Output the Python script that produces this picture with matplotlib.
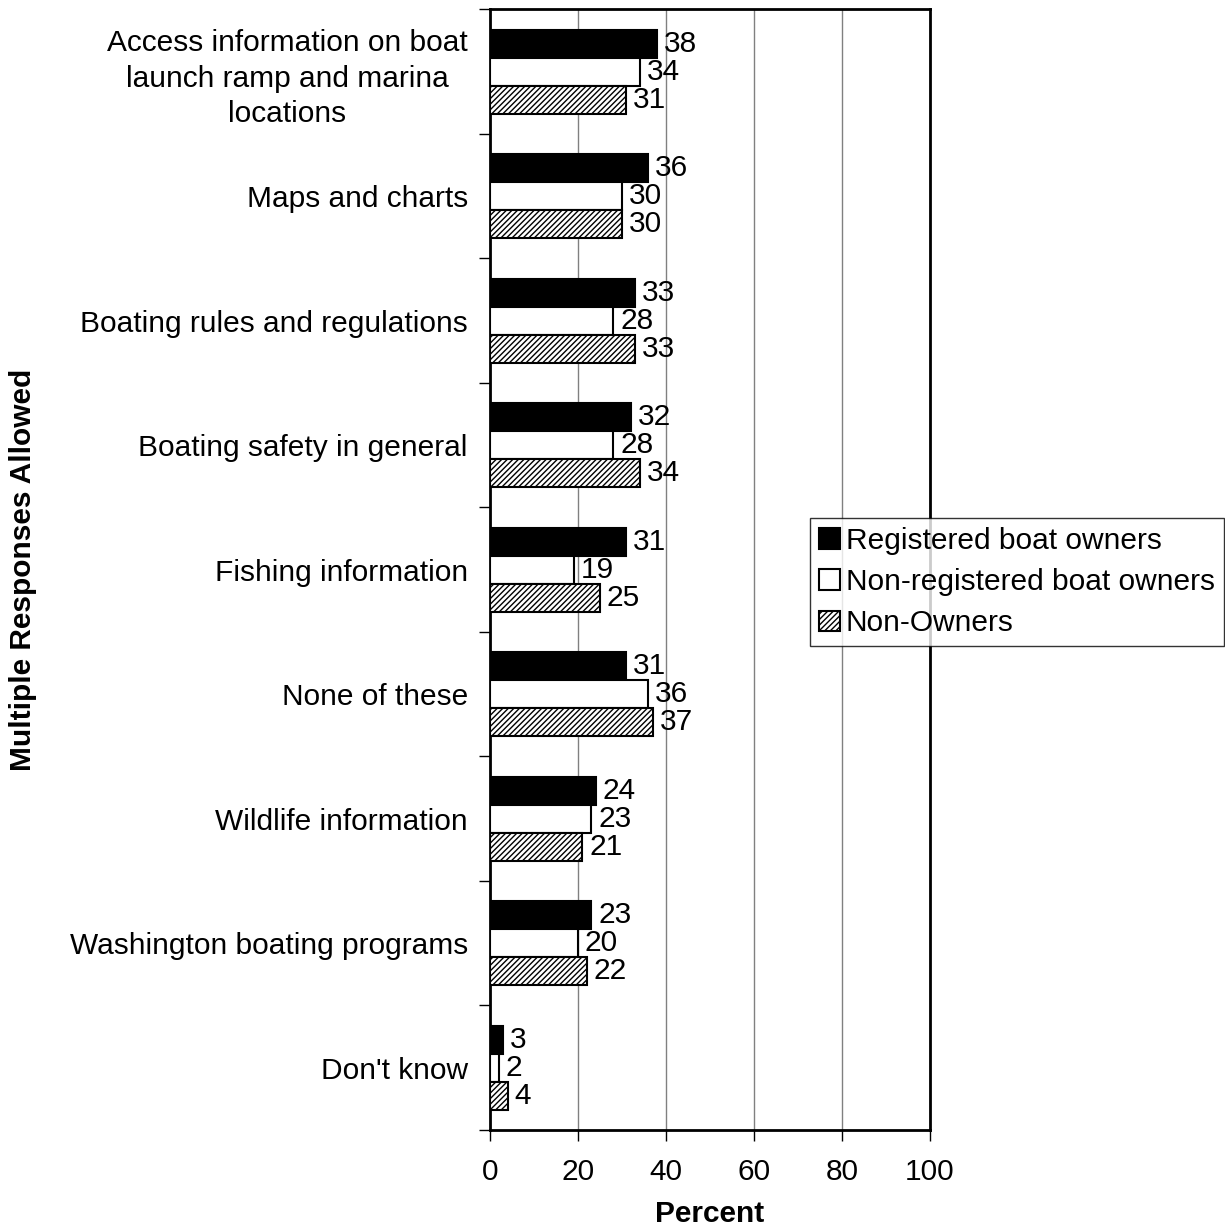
import numpy as np
import matplotlib.pyplot as plt

plt.rcParams['font.family'] = ['Liberation Sans', 'DejaVu Sans']
plt.rcParams['hatch.linewidth'] = 1.0

categories = ["Access information on boat\nlaunch ramp and marina\nlocations",
              "Maps and charts",
              "Boating rules and regulations",
              "Boating safety in general",
              "Fishing information",
              "None of these",
              "Wildlife information",
              "Washington boating programs",
              "Don't know"]
registered = [38, 36, 33, 32, 31, 31, 24, 23, 3]
non_registered = [34, 30, 28, 28, 19, 36, 23, 20, 2]
non_owners = [31, 30, 33, 34, 25, 37, 21, 22, 4]

fs = 21.5

fig = plt.figure(figsize=(12.25, 12.26), dpi=100)
ax = fig.add_axes([0.4, 0.0783, 0.359, 0.914])

n = len(categories)
y = np.arange(n)
h = 0.225

b1 = ax.barh(y - h, registered, h, color='black', edgecolor='black', lw=1.5,
             label='Registered boat owners', zorder=3)
b2 = ax.barh(y, non_registered, h, color='white', edgecolor='black', lw=1.5,
             label='Non-registered boat owners', zorder=3)
b3 = ax.barh(y + h, non_owners, h, color='white', edgecolor='black', lw=1.5,
             hatch='//////', label='Non-Owners', zorder=3)

for bars in (b1, b2, b3):
    ax.bar_label(bars, padding=5, fontsize=fs)

ax.set_xlim(0, 100)
ax.set_ylim(n - 0.5, -0.5)
ax.set_xticks([0, 20, 40, 60, 80, 100])
ax.tick_params(axis='x', labelsize=fs, direction='out', length=8, width=1, pad=12)

ax.set_yticks(np.arange(n + 1) - 0.5, minor=False)
ax.set_yticklabels([])
ax.set_yticks(y, minor=True)
ax.set_yticklabels(categories, minor=True, fontsize=fs, ha='right',
                   multialignment='center', linespacing=1.35)
ax.tick_params(axis='y', which='major', direction='out', length=8, width=1)
ax.tick_params(axis='y', which='minor', length=0, pad=16)

ax.grid(axis='x', color='gray', lw=1, zorder=0)
for s in ax.spines.values():
    s.set_linewidth(2)

ax.set_xlabel('Percent', fontsize=fs, fontweight='bold', labelpad=10)
fig.text(0.019, 0.535, 'Multiple Responses Allowed', rotation=90, fontsize=fs,
         fontweight='bold', ha='center', va='center')

leg = ax.legend(loc='center left', bbox_to_anchor=(0.727, 0.489), fontsize=fs,
                frameon=True, fancybox=False, edgecolor='black',
                handlelength=0.7, handleheight=0.7, handletextpad=0.2,
                borderpad=0.3, labelspacing=0.45, borderaxespad=0)
leg.get_frame().set_linewidth(1)
leg.set_zorder(5)

fig.savefig('out.png', dpi=100)
